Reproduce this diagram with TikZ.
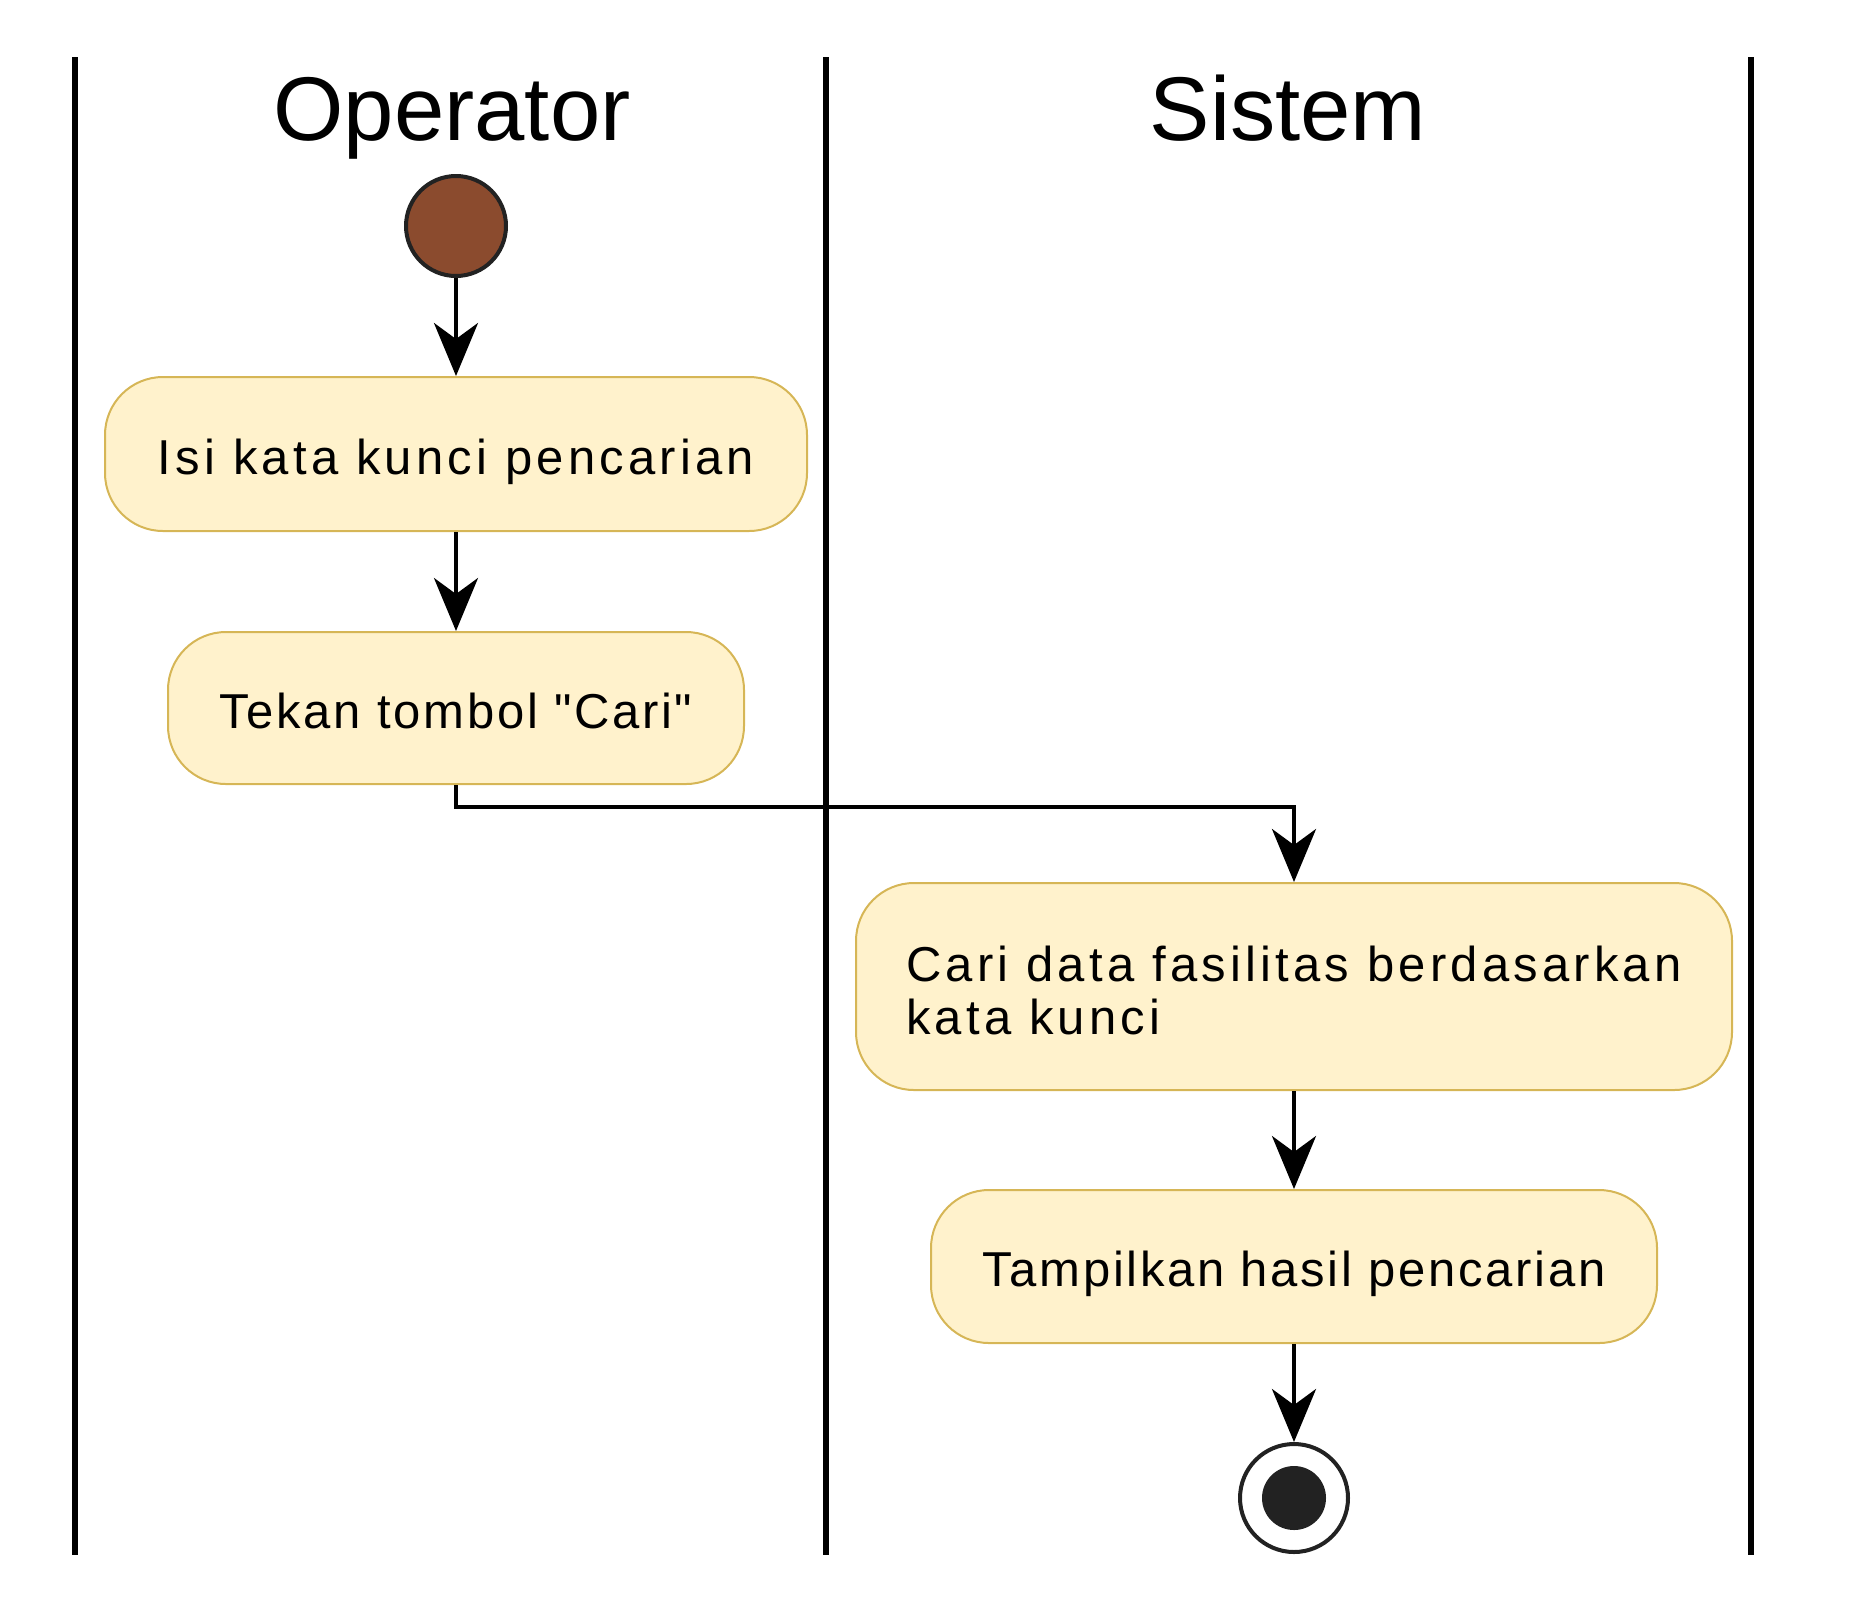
\documentclass[tikz,border=0pt]{standalone}
\usepackage{fontspec}
\setmainfont{Liberation Sans}
\newfontfamily\wideA{Liberation Sans}[LetterSpace=8.6]
\newfontfamily\wideB{Liberation Sans}[LetterSpace=5.5]
\usetikzlibrary{arrows.meta}
\definecolor{actfill}{HTML}{FFF2CC}
\definecolor{actline}{HTML}{D6B656}
\definecolor{startfill}{RGB}{139,75,46}
\definecolor{darkline}{HTML}{222222}
\begin{document}
\begin{tikzpicture}[x=1pt,y=-1pt,
  lane/.style={line width=6pt},
  act/.style={draw=actline, fill=actfill, line width=2pt, rounded corners=58pt, inner sep=0pt},
  oneline/.style={text height=44pt, text depth=4pt},
  txtA/.style={font=\wideA\fontsize{49}{53}\selectfont},
  txtB/.style={font=\wideB\fontsize{49}{53}\selectfont},
  flow/.style={line width=4pt, -{Stealth[length=53pt,width=44pt,inset=16pt]}},
  hdr/.style={font=\fontsize{90.5}{100}\selectfont, anchor=base}
]
\useasboundingbox (0,0) rectangle (1855,1610);
% swimlane separators
\draw[lane] (75,57) -- (75,1555);
\draw[lane] (826,57) -- (826,1555);
\draw[lane] (1751,57) -- (1751,1555);
% headers
\node[hdr] (hop) at (452,140) {Operator};
\node[hdr] (hsys) at (1288,140) {Sistem};
% start
\node[circle, draw=darkline, fill=startfill, line width=4pt, minimum size=100pt, inner sep=0pt] (start) at (456,226) {};
% activities
\node[act, oneline, txtA, minimum width=702pt, minimum height=154pt] (a1) at (456,454) {Isi kata kunci pencarian};
\node[act, oneline, txtB, minimum width=576pt, minimum height=152pt] (a2) at (456,708) {Tekan tombol "Cari"};
\node[act, txtA, align=left, text height=95pt, text depth=0pt, minimum width=876pt, minimum height=207pt] (a3) at (1294,986.5) {Cari data fasilitas berdasarkan\\kata kunci};
\node[act, oneline, txtB, minimum width=726pt, minimum height=153pt] (a4) at (1294,1266.5) {Tampilkan hasil pencarian};
% end
\node[circle, draw=darkline, fill=white, line width=4pt, minimum size=108pt, inner sep=0pt] (end) at (1294,1498) {};
\node[circle, fill=darkline, minimum size=64pt, inner sep=0pt] (enddot) at (end) {};
% flows
\path (a3.north) ++(0,-75) coordinate (bend);
\draw[flow] (start) -- (a1);
\draw[flow] (a1) -- (a2);
\draw[flow] (a2.south) |- (bend) -- (a3.north);
\draw[flow] (a3) -- (a4);
\draw[flow] (a4) -- (end);
\end{tikzpicture}
\end{document}
